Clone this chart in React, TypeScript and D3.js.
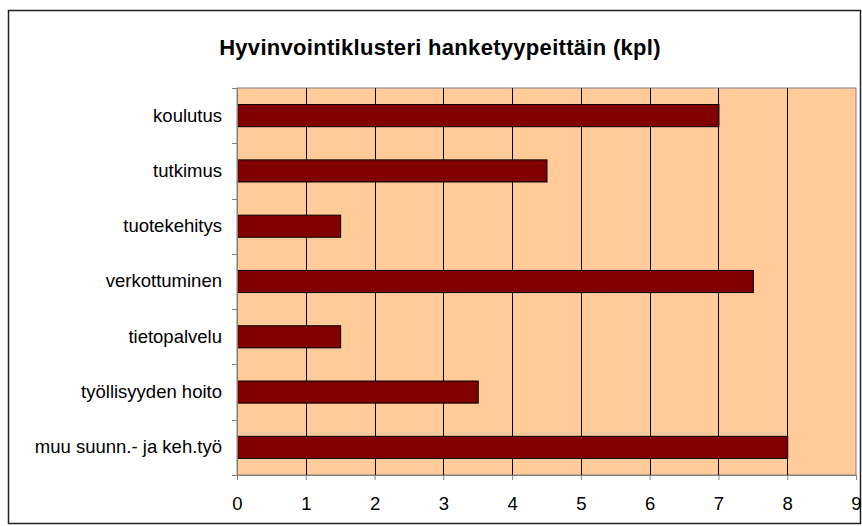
import { useEffect, useRef } from "react";
import * as d3 from "d3";

const categories = [
  "koulutus",
  "tutkimus",
  "tuotekehitys",
  "verkottuminen",
  "tietopalvelu",
  "työllisyyden hoito",
  "muu suunn.- ja keh.työ",
];
const values = [7, 4.5, 1.5, 7.5, 1.5, 3.5, 8];
const xTicks = [0, 1, 2, 3, 4, 5, 6, 7, 8, 9];
const title = "Hyvinvointiklusteri hanketyypeittäin (kpl)";

const App = () => {
  const svgRef = useRef<SVGSVGElement>(null);

  useEffect(() => {
    const w = 862;
    const h = 526;
    const left = 237;
    const right = 856;
    const top = 88;
    const bottom = 475;
    const font = "'Liberation Sans', Arial, sans-serif";

    const svg = d3.select(svgRef.current).attr("width", w).attr("height", h);
    svg.selectAll("*").remove();

    // outer frame
    svg
      .append("rect")
      .attr("x", 8.5)
      .attr("y", 10.5)
      .attr("width", 852)
      .attr("height", 513)
      .attr("fill", "#fff")
      .attr("stroke", "#222")
      .attr("stroke-width", 1.5);

    svg
      .append("text")
      .attr("x", 440)
      .attr("y", 55)
      .attr("text-anchor", "middle")
      .attr("font-family", font)
      .attr("font-weight", "bold")
      .attr("font-size", 22)
      .attr("letter-spacing", 0.3)
      .attr("fill", "#000")
      .text(title);

    const xScale = d3.scaleLinear().domain([0, 9]).range([left, right]);
    const yScale = d3
      .scaleBand()
      .domain(categories)
      .range([top, bottom])
      .paddingInner(0.6)
      .paddingOuter(0.3);

    svg
      .append("rect")
      .attr("x", left)
      .attr("y", top)
      .attr("width", right - left)
      .attr("height", bottom - top)
      .attr("fill", "#ffcc99")
      .attr("stroke", "#808080")
      .attr("stroke-width", 1);

    // vertical gridlines
    svg
      .selectAll(".grid")
      .data(xTicks.slice(1, -1))
      .join("line")
      .attr("x1", (d) => Math.round(xScale(d)) + 0.5)
      .attr("x2", (d) => Math.round(xScale(d)) + 0.5)
      .attr("y1", top)
      .attr("y2", bottom)
      .attr("stroke", "#000")
      .attr("stroke-width", 1);

    svg
      .selectAll(".bar")
      .data(values)
      .join("rect")
      .attr("x", left + 0.5)
      .attr("y", (d, i) => yScale(categories[i])!)
      .attr("width", (d) => xScale(d) - left)
      .attr("height", yScale.bandwidth())
      .attr("fill", "#800000")
      .attr("stroke", "#000")
      .attr("stroke-width", 1);

    // left axis with ticks between categories
    const step = (bottom - top) / categories.length;
    const yBounds = d3.range(categories.length + 1).map((i) => top + i * step);
    const yAxisG = svg.append("g");
    yAxisG
      .append("line")
      .attr("x1", left + 0.5)
      .attr("x2", left + 0.5)
      .attr("y1", top)
      .attr("y2", bottom)
      .attr("stroke", "#808080");
    yAxisG
      .selectAll("line.tick")
      .data(yBounds)
      .join("line")
      .attr("class", "tick")
      .attr("x1", left - 5)
      .attr("x2", left)
      .attr("y1", (d) => Math.round(d) + 0.5)
      .attr("y2", (d) => Math.round(d) + 0.5)
      .attr("stroke", "#808080");
    yAxisG
      .selectAll("text")
      .data(categories)
      .join("text")
      .attr("x", 222)
      .attr("y", (d) => yScale(d)! + yScale.bandwidth() / 2)
      .attr("dy", "0.32em")
      .attr("text-anchor", "end")
      .attr("font-family", font)
      .attr("font-size", 18.5)
      .attr("fill", "#000")
      .text((d) => d);

    const xAxis = d3
      .axisBottom(xScale)
      .tickValues(xTicks)
      .tickSize(5)
      .tickPadding(17)
      .tickFormat((d) => String(d));
    const xg = svg.append("g").attr("transform", `translate(0,${bottom})`).call(xAxis);
    xg.select(".domain").attr("stroke", "#808080");
    xg.selectAll(".tick line").attr("stroke", "#808080");
    xg.selectAll("text")
      .attr("font-family", font)
      .attr("font-size", 18.5)
      .attr("fill", "#000");
  }, []);

  return (
    <div>
      <svg ref={svgRef} style={{ position: "absolute", left: 0, top: 0, display: "block" }}></svg>
    </div>
  );
};

export default App;
